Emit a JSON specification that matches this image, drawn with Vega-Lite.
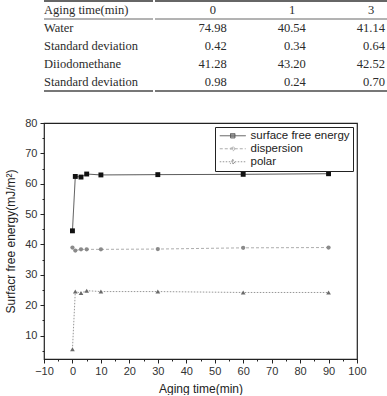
{
  "$schema": "https://vega.github.io/schema/vega-lite/v6.json",
  "background": "white",
  "padding": {"left": 4, "top": 0, "right": 0, "bottom": 0},
  "spacing": 24,
  "config": {
    "font": "Liberation Sans",
    "view": {"stroke": null},
    "axis": {
      "grid": false,
      "labelFont": "Liberation Sans",
      "titleFont": "Liberation Sans",
      "labelFontSize": 11,
      "titleFontSize": 12,
      "titleFontWeight": "normal",
      "labelColor": "#333333",
      "titleColor": "#222222",
      "tickColor": "#222222",
      "domain": false
    }
  },
  "resolve": {
    "scale": {"color": "independent", "shape": "independent", "strokeDash": "independent"},
    "legend": {"color": "independent", "shape": "independent", "strokeDash": "independent"}
  },
  "datasets": {
    "table": [
      {"row": 0, "col": "label", "text": "Aging time(min)"},
      {"row": 0, "col": "0", "text": "0"},
      {"row": 0, "col": "1", "text": "1"},
      {"row": 0, "col": "3", "text": "3"},
      {"row": 1, "col": "label", "text": "Water"},
      {"row": 1, "col": "0", "text": "74.98"},
      {"row": 1, "col": "1", "text": "40.54"},
      {"row": 1, "col": "3", "text": "41.14"},
      {"row": 2, "col": "label", "text": "Standard deviation"},
      {"row": 2, "col": "0", "text": "0.42"},
      {"row": 2, "col": "1", "text": "0.34"},
      {"row": 2, "col": "3", "text": "0.64"},
      {"row": 3, "col": "label", "text": "Diiodomethane"},
      {"row": 3, "col": "0", "text": "41.28"},
      {"row": 3, "col": "1", "text": "43.20"},
      {"row": 3, "col": "3", "text": "42.52"},
      {"row": 4, "col": "label", "text": "Standard deviation"},
      {"row": 4, "col": "0", "text": "0.98"},
      {"row": 4, "col": "1", "text": "0.24"},
      {"row": 4, "col": "3", "text": "0.70"}
    ],
    "energy": [
      {"series": "surface free energy", "time": 0, "energy": 44.5},
      {"series": "surface free energy", "time": 1, "energy": 62.4},
      {"series": "surface free energy", "time": 3, "energy": 62.2},
      {"series": "surface free energy", "time": 5, "energy": 63.2},
      {"series": "surface free energy", "time": 10, "energy": 62.9},
      {"series": "surface free energy", "time": 30, "energy": 63.0},
      {"series": "surface free energy", "time": 60, "energy": 63.1},
      {"series": "surface free energy", "time": 90, "energy": 63.3},
      {"series": "dispersion", "time": 0, "energy": 39.0},
      {"series": "dispersion", "time": 1, "energy": 38.0},
      {"series": "dispersion", "time": 3, "energy": 38.4},
      {"series": "dispersion", "time": 5, "energy": 38.4},
      {"series": "dispersion", "time": 10, "energy": 38.4},
      {"series": "dispersion", "time": 30, "energy": 38.5},
      {"series": "dispersion", "time": 60, "energy": 38.9},
      {"series": "dispersion", "time": 90, "energy": 39.0},
      {"series": "polar", "time": 0, "energy": 5.5},
      {"series": "polar", "time": 1, "energy": 24.5},
      {"series": "polar", "time": 3, "energy": 24.0},
      {"series": "polar", "time": 5, "energy": 24.8},
      {"series": "polar", "time": 10, "energy": 24.5},
      {"series": "polar", "time": 30, "energy": 24.5},
      {"series": "polar", "time": 60, "energy": 24.2},
      {"series": "polar", "time": 90, "energy": 24.2}
    ]
  },
  "vconcat": [
    {
      "hconcat": [
        {
          "width": 109,
          "height": 90,
          "data": {"name": "table"},
          "transform": [{"filter": "datum.col == 'label'"}],
          "layer": [
            {
              "transform": [{"filter": "datum.row == 0"}],
              "mark": {"type": "rule", "color": "#666666", "strokeWidth": 2},
              "encoding": {"y": {"field": "row", "type": "ordinal", "bandPosition": 0, "axis": null, "scale": {"paddingInner": 0, "paddingOuter": 0}}}
            },
            {
              "transform": [{"filter": "datum.row == 0"}],
              "mark": {"type": "rule", "color": "#666666", "strokeWidth": 1},
              "encoding": {"y": {"field": "row", "type": "ordinal", "bandPosition": 1, "axis": null}}
            },
            {
              "transform": [{"filter": "datum.row == 4"}],
              "mark": {"type": "rule", "color": "#777777", "strokeWidth": 2},
              "encoding": {"y": {"field": "row", "type": "ordinal", "bandPosition": 1, "axis": null}}
            },
            {
              "mark": {"type": "text", "align": "left", "baseline": "middle", "font": "Liberation Serif", "fontSize": 12.5, "color": "#2b2b2b"},
              "encoding": {
                "x": {"field": "col", "type": "nominal", "bandPosition": 0, "axis": null, "scale": {"type": "band", "paddingInner": 0, "paddingOuter": 0}},
                "y": {"field": "row", "type": "ordinal", "axis": null},
                "text": {"field": "text"}
              }
            }
          ]
        },
        {
          "width": 274,
          "height": 90,
          "data": {"name": "table"},
          "transform": [{"filter": "datum.col != 'label'"}],
          "layer": [
            {
              "transform": [{"filter": "datum.row == 0 && datum.col == '0'"}],
              "mark": {"type": "rule", "color": "#666666", "strokeWidth": 2},
              "encoding": {"y": {"field": "row", "type": "ordinal", "bandPosition": 0, "axis": null, "scale": {"domain": [0, 1, 2, 3, 4], "paddingInner": 0, "paddingOuter": 0}}}
            },
            {
              "transform": [{"filter": "datum.row == 0 && datum.col == '0'"}],
              "mark": {"type": "rule", "color": "#666666", "strokeWidth": 1},
              "encoding": {"y": {"field": "row", "type": "ordinal", "bandPosition": 1, "axis": null}}
            },
            {
              "transform": [{"filter": "datum.row == 4 && datum.col == '0'"}],
              "mark": {"type": "rule", "color": "#777777", "strokeWidth": 2},
              "encoding": {"y": {"field": "row", "type": "ordinal", "bandPosition": 1, "axis": null}}
            },
            {
              "transform": [{"filter": "datum.row == 0"}],
              "mark": {"type": "text", "align": "center", "baseline": "middle", "font": "Liberation Serif", "fontSize": 12.5, "color": "#2b2b2b"},
              "encoding": {
                "x": {"field": "col", "type": "nominal", "bandPosition": 0.5, "axis": null, "scale": {"type": "band", "domain": ["0", "1", "3"], "paddingInner": 0.65, "paddingOuter": 0.557}},
                "y": {"field": "row", "type": "ordinal", "axis": null},
                "text": {"field": "text"}
              }
            },
            {
              "transform": [{"filter": "datum.row > 0"}],
              "mark": {"type": "text", "align": "right", "baseline": "middle", "font": "Liberation Serif", "fontSize": 12.5, "color": "#2b2b2b"},
              "encoding": {
                "x": {"field": "col", "type": "nominal", "bandPosition": 1, "axis": null},
                "y": {"field": "row", "type": "ordinal", "axis": null},
                "text": {"field": "text"}
              }
            }
          ]
        }
      ],
      "spacing": 0
    },
    {
      "width": 313,
      "height": 236,
      "data": {"name": "energy"},
      "view": {"stroke": "#222222", "strokeWidth": 1.2},
      "layer": [
        {
          "mark": {"type": "line", "strokeWidth": 1, "opacity": 0.7},
          "encoding": {
            "x": {
              "field": "time", "type": "quantitative",
              "scale": {"domain": [-10, 100], "nice": false, "zero": false},
              "axis": {"orient": "bottom", "title": "Aging time(min)", "values": [-10, 0, 10, 20, 30, 40, 50, 60, 70, 80, 90, 100], "tickSize": 4, "labelPadding": 2, "titlePadding": 7, "labelFlush": false}
            },
            "y": {
              "field": "energy", "type": "quantitative",
              "scale": {"domain": [2.3, 80], "nice": false, "zero": false},
              "axis": {"orient": "left", "title": "Surfacr free energy(mJ/m²)", "values": [10, 20, 30, 40, 50, 60, 70, 80], "tickSize": 4, "labelPadding": 3, "titlePadding": 7}
            },
            "color": {
              "field": "series", "type": "nominal",
              "scale": {"domain": ["surface free energy", "dispersion", "polar"], "range": ["#111111", "#8a8a8a", "#6a6a6a"]},
              "legend": {
                "title": null,
                "orient": "top-right",
                "offset": 4,
                "strokeColor": "#222222",
                "fillColor": "white",
                "padding": 3,
                "cornerRadius": 0,
                "labelFont": "Liberation Sans",
                "labelFontSize": 11.5,
                "labelColor": "#222222",
                "symbolSize": 64,
                "symbolStrokeWidth": 1,
                "symbolOffset": 9,
                "labelOffset": 12,
                "rowPadding": 0,
                "symbolOpacity": 1
              }
            },
            "strokeDash": {
              "field": "series", "type": "nominal",
              "scale": {"domain": ["surface free energy", "dispersion", "polar"], "range": [[1, 0], [3, 2], [1.5, 1.5]]},
              "legend": {"title": null}
            }
          }
        },
        {
          "transform": [{"filter": "false"}],
          "mark": {"type": "point", "filled": false, "strokeWidth": 1},
          "encoding": {
            "x": {"field": "time", "type": "quantitative", "axis": null},
            "y": {"field": "energy", "type": "quantitative", "axis": null},
            "color": {"field": "series", "type": "nominal", "scale": {"domain": ["surface free energy", "dispersion", "polar"]}, "legend": {"title": null}},
            "strokeDash": {"field": "series", "type": "nominal", "scale": {"domain": ["surface free energy", "dispersion", "polar"]}, "legend": {"title": null}},
            "shape": {
              "field": "series", "type": "nominal",
              "scale": {
                "domain": ["surface free energy", "dispersion", "polar"],
                "range": [
                  "M-3.25,0H3.25M-0.55,-0.55H0.55V0.55H-0.55ZM-0.55,-0.25H0.55M-0.55,0.25H0.55",
                  "M-3.25,0H3.25M0.5,0A0.5,0.5,0,1,1,-0.5,0A0.5,0.5,0,1,1,0.5,0M0,-0.5V0.5",
                  "M-3.25,0H3.25M0,-0.6L0.6,0.45H-0.6ZM0,-0.6V0.45"
                ]
              },
              "legend": {"title": null}
            }
          }
        },
        {
          "transform": [{"filter": "datum.series == 'surface free energy'"}],
          "mark": {"type": "point", "filled": true, "opacity": 1, "size": 24, "shape": "square", "color": "#111111"},
          "encoding": {
            "x": {
              "field": "time", "type": "quantitative",
              "axis": {"orient": "bottom", "title": null, "labels": false, "values": [-5, 5, 15, 25, 35, 45, 55, 65, 75, 85, 95], "tickSize": 2}
            },
            "y": {
              "field": "energy", "type": "quantitative",
              "axis": {"orient": "left", "title": null, "labels": false, "values": [5, 15, 25, 35, 45, 55, 65, 75], "tickSize": 2}
            }
          }
        },
        {
          "transform": [{"filter": "datum.series == 'dispersion'"}],
          "mark": {"type": "point", "filled": true, "opacity": 1, "size": 18, "shape": "circle", "color": "#8a8a8a"},
          "encoding": {
            "x": {"field": "time", "type": "quantitative", "axis": null},
            "y": {"field": "energy", "type": "quantitative", "axis": null}
          }
        },
        {
          "transform": [{"filter": "datum.series == 'polar'"}],
          "mark": {"type": "point", "filled": true, "opacity": 1, "size": 22, "shape": "triangle-up", "color": "#6a6a6a"},
          "encoding": {
            "x": {"field": "time", "type": "quantitative", "axis": null},
            "y": {"field": "energy", "type": "quantitative", "axis": null}
          }
        }
      ],
      "resolve": {"axis": {"x": "independent", "y": "independent"}}
    }
  ]
}
